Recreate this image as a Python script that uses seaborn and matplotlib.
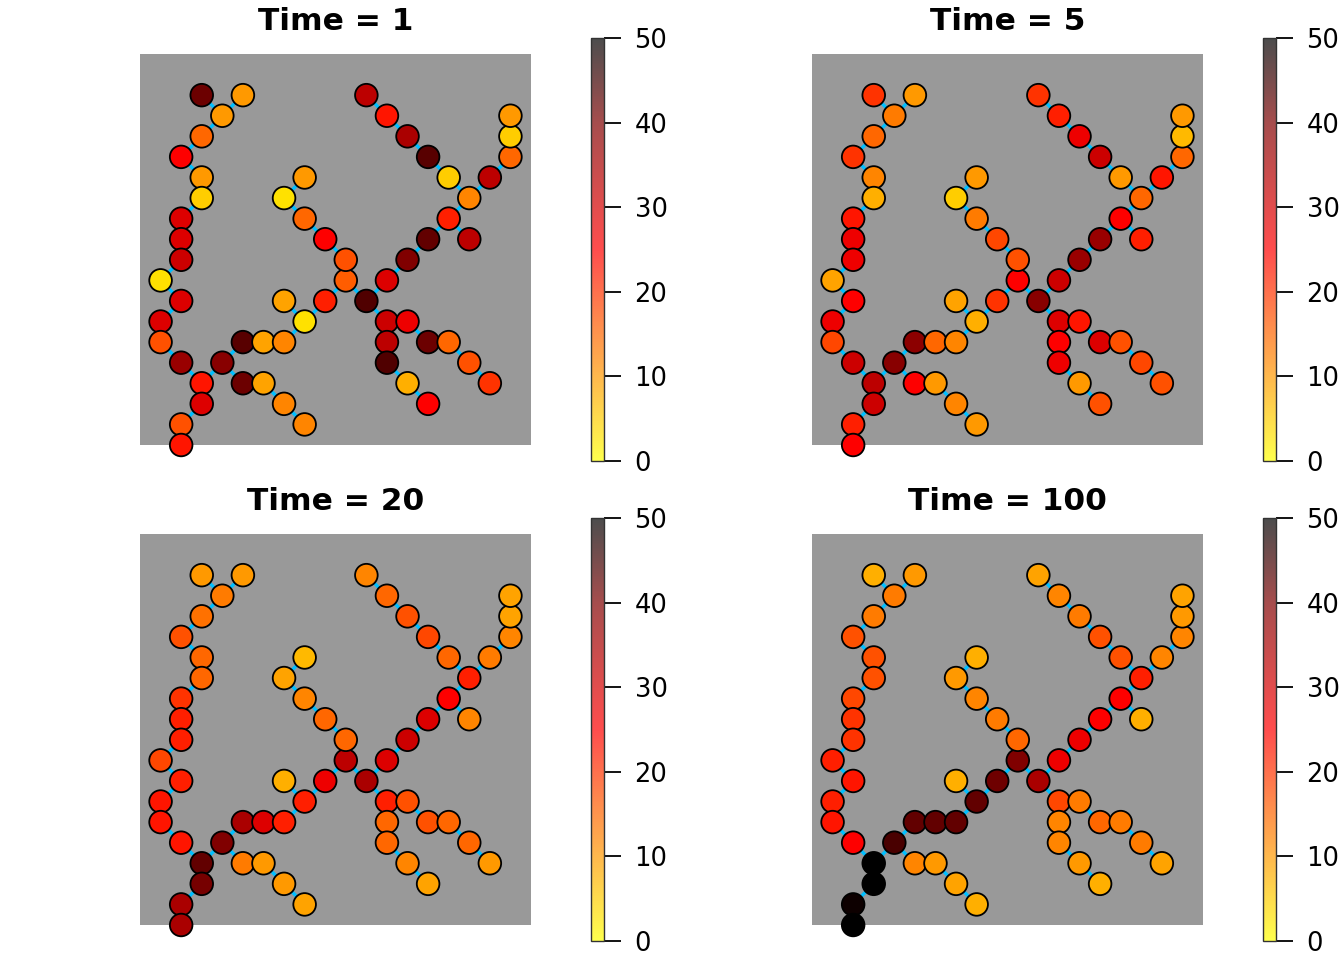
import numpy as np
import pandas as pd
import matplotlib
matplotlib.use('Agg')
import matplotlib.pyplot as plt
from matplotlib.colors import LinearSegmentedColormap, Normalize, to_rgb
from matplotlib.cm import ScalarMappable
import seaborn as sns

# Node positions on the stream grid (column, row)
node_col = [3, 5, 4, 3, 2, 3, 3, 2, 2, 2, 1, 2, 1, 1, 2, 3, 3, 2, 2, 4, 5, 6, 7, 8, 7, 9, 10, 11,
            10, 9, 8, 7, 8, 12, 13, 14, 15, 16, 16, 17, 18, 18, 18, 15, 14, 13, 12, 11, 12, 13,
            12, 12, 13, 14, 14, 15, 16, 17, 5, 6, 7, 8]
node_row = [17, 17, 16, 15, 14, 13, 12, 11, 10, 9, 8, 7, 6, 5, 4, 3, 2, 1, 0, 4, 5, 5, 5, 6, 7, 7,
            8, 7, 9, 10, 11, 12, 13, 8, 9, 10, 11, 10, 12, 13, 14, 15, 16, 13, 14, 15, 16, 17, 6,
            6, 5, 4, 3, 2, 5, 5, 4, 3, 3, 3, 2, 1]

# Stream segments as chains of node indices
stream_paths = [
    [18, 17, 16, 15, 14, 13, 12, 11, 10, 9, 8, 7, 6, 5, 4, 3, 2, 0],
    [2, 1],
    [15, 19, 20, 21, 22, 23, 25, 26, 27, 33, 34, 35, 36, 38, 39, 40, 41, 42],
    [23, 24],
    [19, 58, 59, 60, 61],
    [26, 28, 29, 30, 31, 32],
    [36, 37],
    [38, 43, 44, 45, 46, 47],
    [27, 48, 49, 54, 55, 56, 57],
    [48, 50, 51, 52, 53],
]

# Values at each node for every time step
time_steps = [1, 5, 20, 100]
values_t1 = [41.5, 10, 10, 15, 25, 10, 5, 29, 29, 31, 3, 29, 29, 17, 37, 23, 29, 17, 23, 39, 43,
             9, 12, 3, 9, 22, 16, 43.6, 17, 25, 15, 3, 10, 29, 40, 42.3, 22, 33, 12, 33, 15, 5, 10,
             5, 43, 35, 23, 33, 31, 27, 33, 43.6, 8, 25, 41.5, 15, 17, 20, 41.5, 9, 12, 12]
values_t5 = [20, 10, 13, 15, 20, 12, 8, 23, 27, 27, 9, 25, 27, 18, 31, 33, 31, 22, 25, 39, 38.5,
             15, 12, 8, 9, 20, 25, 39, 17, 18, 13, 5, 10, 31, 37, 37, 25, 22, 15, 23, 15, 7, 10, 10,
             31, 27, 22, 20, 29, 23, 25, 27, 10, 17, 29, 17, 18, 17, 25, 10, 12, 10]
values_t20 = [10, 10, 13, 14, 17, 15, 15, 20, 22, 22, 18, 22, 23, 23, 23, 42.3, 40.7, 35, 35, 40,
              35, 29, 22, 22, 8, 27, 33, 35, 15, 15, 12, 9, 7, 29, 31, 29, 25, 12, 22, 13, 12, 9,
              9, 15, 18, 17, 15, 12, 22, 17, 15, 15, 12, 9, 17, 15, 15, 10, 13, 10, 10, 9]
values_t100 = [8, 10, 13, 13, 17, 17, 17, 18, 20, 20, 22, 23, 22, 23, 25, 50, 50, 49, 50, 44.2,
               42.3, 42.3, 42.3, 42.3, 8, 41.3, 40, 35, 15, 13, 12, 10, 8, 27, 27, 25, 25, 8, 22,
               12, 12, 10, 9, 17, 17, 13, 12, 9, 18, 13, 12, 12, 10, 8, 15, 13, 13, 9, 12, 10, 9, 8]

VMIN, VMAX = 0, 50
# colour ramp stops: yellow -> red -> dark red -> black
ramp_pos = [0.0, 0.5, 0.8, 1.0]
ramp_colors = ['#FFFF00', '#FF0000', '#800000', '#000000']


def lighten(color, alpha=0.7):
    """Blend a colour with white, like a semi-transparent key."""
    rgb = np.array(to_rgb(color))
    return tuple(alpha * rgb + (1 - alpha) * 1.0)


def draw_panel(fig, rect, cbar_rect, vals, title, cmap, key_cmap):
    ax = fig.add_axes(rect)
    ax.set_facecolor('#999999')

    # stream lines
    rows = []
    for pid, path in enumerate(stream_paths):
        for order, idx in enumerate(path):
            rows.append({'path': pid, 'order': order,
                         'x': node_col[idx], 'y': node_row[idx]})
    edges = pd.DataFrame(rows)
    sns.lineplot(data=edges, x='x', y='y', units='path', estimator=None, sort=False,
                 color='#00BFFF', linewidth=2.4, ax=ax, zorder=2)

    # nodes coloured by value
    nodes = pd.DataFrame({'x': node_col, 'y': node_row, 'value': vals})
    sns.scatterplot(data=nodes, x='x', y='y', hue='value', palette=cmap,
                    hue_norm=(VMIN, VMAX), s=265, edgecolor='black', linewidth=1.3,
                    legend=False, ax=ax, zorder=3, clip_on=False)

    ax.set_xlim(0, 19)
    ax.set_ylim(0, 19)
    ax.set_xticks([])
    ax.set_yticks([])
    ax.set_xlabel('')
    ax.set_ylabel('')
    for sp in ax.spines.values():
        sp.set_visible(False)

    # colour key
    cax = fig.add_axes(cbar_rect)
    sm = ScalarMappable(norm=Normalize(VMIN, VMAX), cmap=key_cmap)
    cb = fig.colorbar(sm, cax=cax, ticks=[0, 10, 20, 30, 40, 50])
    cb.outline.set_linewidth(1.0)
    cb.outline.set_edgecolor('#333333')
    cax.tick_params(labelsize=18.5, length=12, width=1.3, pad=10)

    x0 = rect[0] + rect[2] / 2
    y_title = rect[1] + rect[3] + 32 / 960
    fig.text(x0, y_title, title, ha='center', va='center',
             fontsize=22.5, fontweight='bold')
    return ax


def main():
    plt.rcParams['font.family'] = ['DejaVu Sans']
    cmap = LinearSegmentedColormap.from_list('heat', list(zip(ramp_pos, ramp_colors)))
    key_cmap = LinearSegmentedColormap.from_list(
        'heat_key', list(zip(ramp_pos, [lighten(c) for c in ramp_colors])))

    fig = plt.figure(figsize=(13.44, 9.6), dpi=100)
    W, H = 1344, 960

    panels = [values_t1, values_t5, values_t20, values_t100]
    lefts = [140, 812, 140, 812]
    tops = [54, 54, 534, 534]
    for vals, t, left, top in zip(panels, time_steps, lefts, tops):
        rect = [left / W, (H - top - 391) / H, 391 / W, 391 / H]
        cbar_rect = [(left + 451) / W, (H - top - 407) / H, 13 / W, 423 / H]
        draw_panel(fig, rect, cbar_rect, vals, f'Time = {t}', cmap, key_cmap)

    fig.savefig('out.png', dpi=100)


if __name__ == "__main__":
    main()
